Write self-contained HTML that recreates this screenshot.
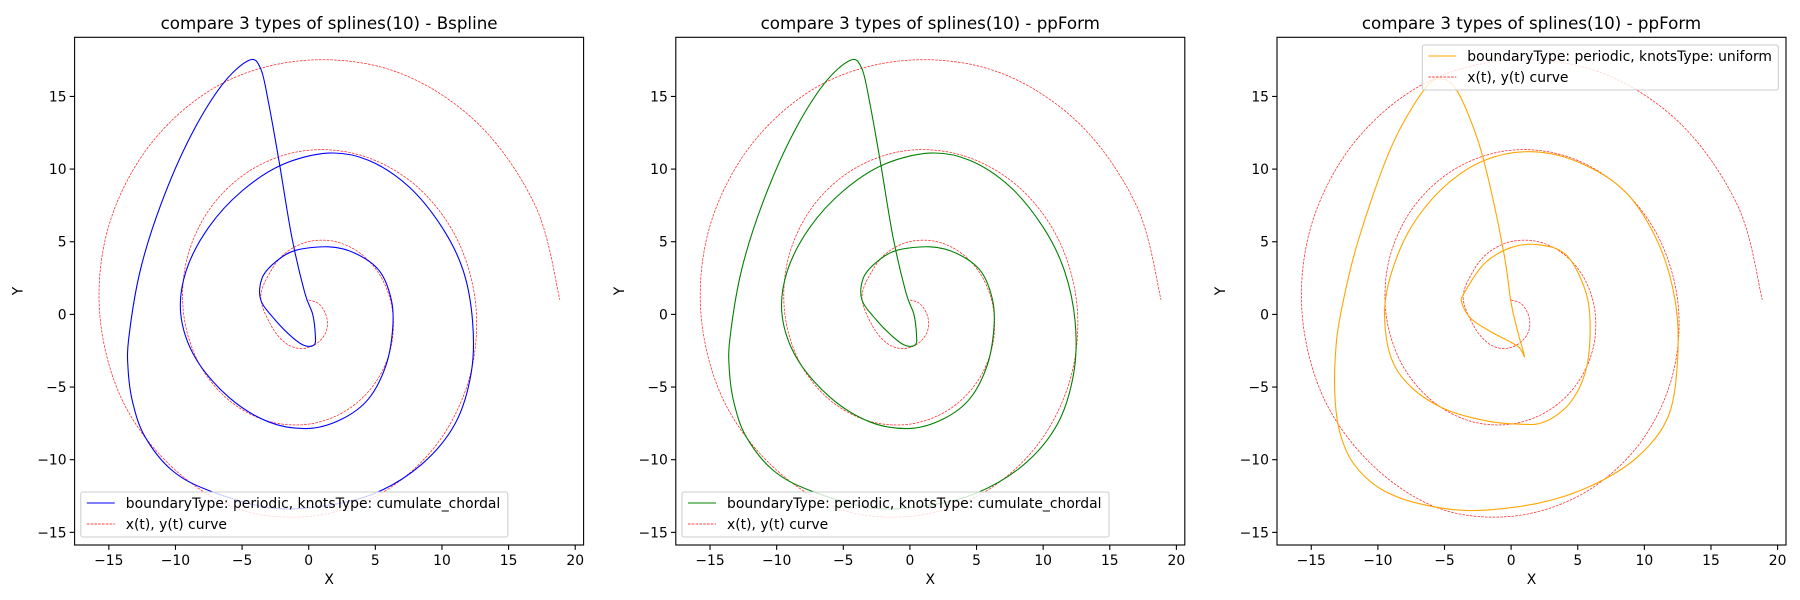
<!DOCTYPE html>
<html><head><meta charset="utf-8"><style>
html,body{margin:0;padding:0;background:#fff;}
svg{display:block;font-family:"DejaVu Sans","Liberation Sans",sans-serif;}
</style></head><body>
<svg id="chart" width="1800" height="600" viewBox="0 0 1800 600" xmlns="http://www.w3.org/2000/svg"></svg>
<script>
// Data arrays
const xTicks = [-15,-10,-5,0,5,10,15,20];
const yTicks = [-15,-10,-5,0,5,10,15];
const curveX = [0,0.8,1.35,1.3,0.6,-0.5,-1.7,-2.8,-3.6,-2.78,-1.65,0,1.96,3.89,5.44,6.28,6.17,5.0,2.86,0,-3.16,-6.11,-8.35,-9.42,-9.07,-7.22,-4.06,0,4.36,8.33,11.25,12.57,11.97,9.44,5.26,0,-5.56,-10.55,-14.16,-15.71,-14.88,-11.66,-6.47,0,6.77,12.77,17.06,18.85];
const curveY = [1,0.7,-0.2,-1.2,-2.0,-2.35,-2.0,-0.8,1.2,3.08,4.29,5.01,5.02,4.19,2.56,0.3,-2.26,-4.7,-6.59,-7.55,-7.32,-5.81,-3.16,0.3,4.06,7.52,10.09,11.3,10.82,8.63,4.96,0.3,-4.66,-9.14,-12.4,-13.9,-13.3,-10.25,-5.57,0.4,6.47,11.96,15.91,17.5,16.63,13.07,7.37,1.0];
const bsplX = [0.4,-0.3,-1.2,-2.5,-3.6,-3.5,-2.5,-1,1.5,3.5,5.3,6.2,6.3,5.8,4.5,2.5,0,-3,-6,-8.5,-9.6,-9.2,-7.5,-5,-2,1.5,4.5,7.5,10,11.6,12.3,12.2,11,8.5,5,1,-3,-7.55,-10.3,-12.3,-13.2,-13.55,-13.5,-12.65,-11.08,-8.9,-6.5,-4.47,-3.6,-3.0,-2.2,-1.27,-0.3,0.3,0.5];
const bsplY = [-2.1,-2.15,-1.6,-0.4,1,2.5,3.6,4.4,4.65,4.2,3,1,-1,-3.5,-5.8,-7.2,-7.85,-7.4,-5.7,-3,0,3,6,8.5,10.3,11.1,10.6,8.8,6,3,-0.5,-4,-7.5,-10.3,-12.3,-13.2,-13.3,-12.1,-10.7,-8.4,-6.1,-3.85,-1.6,3.0,7.6,12.2,15.8,17.49,16.9,14.5,10.4,5.33,1.5,0,-1.5];
const ppX = [0.4,-0.3,-1.2,-2.5,-3.6,-3.5,-2.5,-1,1.5,3.5,5.3,6.2,6.3,5.8,4.5,2.5,0,-3,-6,-8.5,-9.6,-9.2,-7.5,-5,-2,1.5,4.5,7.5,10,11.6,12.4,12.3,11.1,8.6,5,1,-3,-7.55,-10.3,-12.3,-13.2,-13.55,-13.5,-12.65,-11.08,-8.9,-6.5,-4.47,-3.6,-3.0,-2.2,-1.27,-0.3,0.3,0.5];
const ppY = [-2.1,-2.15,-1.6,-0.4,1,2.5,3.6,4.4,4.65,4.2,3,1,-1,-3.5,-5.8,-7.2,-7.85,-7.4,-5.7,-3,0,3,6,8.5,10.3,11.1,10.6,8.8,6,3,-0.5,-4,-7.5,-10.3,-12.3,-13.2,-13.3,-12.1,-10.7,-8.4,-6.1,-3.85,-1.6,3.0,7.6,12.2,15.8,17.49,16.9,14.5,10.4,5.33,1.5,0,-1.5];
const uniX = [1,0.5,0,-0.5,-1.5,-2.5,-4,-5.2,-6.5,-9,-11.5,-12.8,-13.2,-13.2,-12.8,-11.8,-9.8,-7,-3,2,6,9.5,11.8,12.5,12.3,11,8.5,5,1.5,-2,-5,-7.5,-9,-9.5,-9,-7.5,-5,-2,0.5,2.5,4.5,5.7,5.9,5.3,4,2,0,-2,-3.5,-3.7,-3,-1.5,0.5];
const uniY = [-2.9,-1.2,0.8,4,8.5,12,15.3,16.2,15.5,11.5,5,0,-3,-6,-8.3,-10.3,-12,-13,-13.5,-13,-11.8,-9.8,-7,-3,1,5,8.5,10.5,11.2,10.6,8.8,6,2.8,0,-3,-5,-6.5,-7.3,-7.55,-7.4,-6,-3.5,0,2.3,4.2,4.8,4.6,3.5,1.5,0.8,-0.3,-1.2,-2.2];

const NS = "http://www.w3.org/2000/svg";
const svg = document.getElementById('chart');
const XMIN=-17.57, XMAX=20.63, YMIN=-15.87, YMAX=19.07;
const TOP=37.3, BOT=545, W=509;

function mk(tag, attrs, parent){const e=document.createElementNS(NS,tag);for(const k in attrs)e.setAttribute(k,attrs[k]);(parent||svg).appendChild(e);return e;}

function smoothPath(xs, ys, sx, sy, closed){
  const n=xs.length; const P=[];
  for(let i=0;i<n;i++)P.push([sx(xs[i]),sy(ys[i])]);
  const get=i=>closed?P[(i+n)%n]:P[Math.max(0,Math.min(n-1,i))];
  let d='M'+P[0][0].toFixed(2)+','+P[0][1].toFixed(2);
  const m=closed?n:n-1;
  for(let i=0;i<m;i++){
    const p0=get(i-1),p1=get(i),p2=get(i+1),p3=get(i+2);
    const c1=[p1[0]+(p2[0]-p0[0])/6,p1[1]+(p2[1]-p0[1])/6];
    const c2=[p2[0]-(p3[0]-p1[0])/6,p2[1]-(p3[1]-p1[1])/6];
    d+='C'+c1[0].toFixed(2)+','+c1[1].toFixed(2)+' '+c2[0].toFixed(2)+','+c2[1].toFixed(2)+' '+p2[0].toFixed(2)+','+p2[1].toFixed(2);
  }
  return d;
}

function panel(idx, left, title, sX, sY, color, legendText, legendTop){
  const right=left+W;
  const sx=v=>left+(v-XMIN)/(XMAX-XMIN)*W;
  const sy=v=>BOT-(v-YMIN)/(YMAX-YMIN)*(BOT-TOP);
  const g=mk('g',{});
  
  
  const clipId='clip'+idx;
  const cp=mk('clipPath',{id:clipId},g);
  mk('rect',{x:left,y:TOP,width:W,height:BOT-TOP},cp);
  const t=mk('text',{x:left+W/2,y:29,'text-anchor':'middle','font-size':'16.7',fill:'#000'},g);
  t.textContent=title;
  
  
  const plot=mk('g',{'clip-path':'url(#'+clipId+')'},g);
  const red=mk('path',{d:smoothPath(curveX,curveY,sx,sy,false),fill:'none',stroke:'#ff0000','stroke-width':'0.75','stroke-dasharray':'2.6,1.2','stroke-opacity':'0.85'},plot);
  
  
  const sp=mk('path',{d:smoothPath(sX,sY,sx,sy,true),fill:'none',stroke:color,'stroke-width':'1.1'},plot);
  
  
  const fr=mk('rect',{x:left,y:TOP,width:W,height:BOT-TOP,fill:'none',stroke:'#000','stroke-width':'1.1'},g);
  
  
  xTicks.forEach(v=>{
    const x=sx(v);
    mk('line',{x1:x,x2:x,y1:BOT,y2:BOT+4.9,stroke:'#000','stroke-width':'1.1'},g);
    const tx=mk('text',{x:x,y:565,'text-anchor':'middle','font-size':'13.9',fill:'#000'},g);
    tx.textContent=v<0?'\u2212'+(-v):String(v);
    
    
  });
  yTicks.forEach(v=>{
    const y=sy(v);
    mk('line',{x1:left-4.9,x2:left,y1:y,y2:y,stroke:'#000','stroke-width':'1.1'},g);
    const ty=mk('text',{x:left-8,y:y+5,'text-anchor':'end','font-size':'13.9',fill:'#000'},g);
    ty.textContent=v<0?'\u2212'+(-v):String(v);
    
    
  });
  const xl=mk('text',{x:left+W/2,y:584,'text-anchor':'middle','font-size':'13.9',fill:'#000'},g);
  xl.textContent='X';
  
  
  const yl=mk('text',{x:0,y:0,'text-anchor':'middle','font-size':'13.9',fill:'#000',transform:'translate('+(left-52)+',291) rotate(-90)'},g);
  yl.textContent='Y';
  
  
  const lg=mk('g',{},g);
  
  
  let lx, lw;
  if(legendTop){lw=356;lx=right-7.7-lw;} else {lx=left+6.2;lw=427;}
  const ly=legendTop?45:492;
  mk('rect',{x:lx,y:ly,width:lw,height:45,rx:2,fill:'#fff','fill-opacity':'0.8',stroke:'#cccccc','stroke-width':'1'},lg);
  mk('line',{x1:lx+6,x2:lx+34,y1:ly+11,y2:ly+11,stroke:color,'stroke-width':'1.1'},lg);
  const l1=mk('text',{x:lx+45,y:ly+16,'font-size':'13.9',fill:'#000'},lg);
  l1.textContent=legendText;
  
  
  mk('line',{x1:lx+6,x2:lx+34,y1:ly+32,y2:ly+32,stroke:'#ff0000','stroke-width':'0.75','stroke-dasharray':'2.6,1.2'},lg);
  const l2=mk('text',{x:lx+45,y:ly+37,'font-size':'13.9',fill:'#000'},lg);
  l2.textContent='x(t), y(t) curve';
  
  
}
panel(0,74.6,'compare 3 types of splines(10) - Bspline',bsplX,bsplY,'#0000ff','boundaryType: periodic, knotsType: cumulate_chordal',false);
panel(1,675.8,'compare 3 types of splines(10) - ppForm',ppX,ppY,'#008000','boundaryType: periodic, knotsType: cumulate_chordal',false);
panel(2,1277,'compare 3 types of splines(10) - ppForm',uniX,uniY,'#ffa500','boundaryType: periodic, knotsType: uniform',true);
</script>
</body></html>
